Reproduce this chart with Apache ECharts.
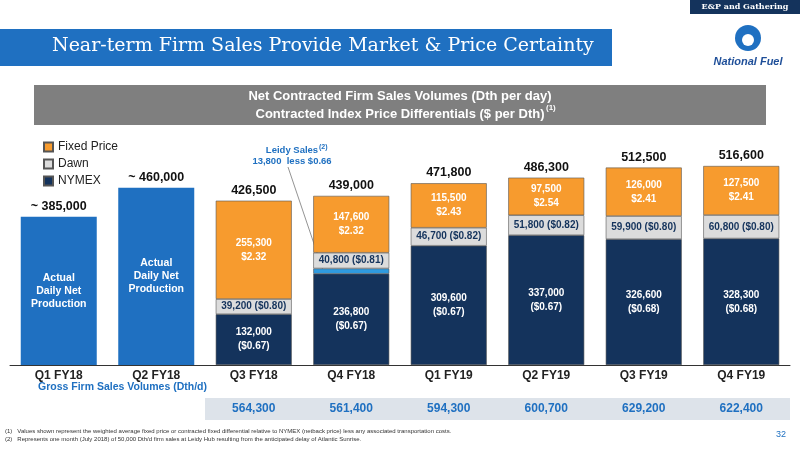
<!DOCTYPE html>
<html>
<head>
<meta charset="utf-8">
<script src="https://cdn.jsdelivr.net/npm/echarts@6/dist/echarts.min.js"></script>
<style>html,body{margin:0;padding:0;background:#fff}#main{width:800px;height:450px}</style>
</head>
<body>
<div id="main"></div>
<script>
var quarters = ['Q1 FY18', 'Q2 FY18', 'Q3 FY18', 'Q4 FY18', 'Q1 FY19', 'Q2 FY19', 'Q3 FY19', 'Q4 FY19'];
var actual = [385000, 460000, '-', '-', '-', '-', '-', '-'];
var nymex = ['-', '-', 132000, 236800, 309600, 337000, 326600, 328300];
var leidy = ['-', '-', '-', 13800, '-', '-', '-', '-'];
var dawn = ['-', '-', 39200, 40800, 46700, 51800, 59900, 60800];
var fixed = ['-', '-', 255300, 147600, 115500, 97500, 126000, 127500];
var totals = ['~ 385,000', '~ 460,000', '426,500', '439,000', '471,800', '486,300', '512,500', '516,600'];
var nymexPrice = ['', '', '($0.67)', '($0.67)', '($0.67)', '($0.67)', '($0.68)', '($0.68)'];
var dawnPrice = ['', '', '($0.80)', '($0.81)', '($0.82)', '($0.82)', '($0.80)', '($0.80)'];
var fixedPrice = ['', '', '$2.32', '$2.32', '$2.43', '$2.54', '$2.41', '$2.41'];
var gross = ['', '', '564,300', '561,400', '594,300', '600,700', '629,200', '622,400'];

function fmt(v) { return v.toLocaleString('en-US'); }

var chart = echarts.init(document.getElementById('main'));
var lab = { fontFamily: 'Liberation Sans', fontWeight: 'bold', fontSize: 10 };
var bw = 76;
var edge = { borderColor: '#555', borderWidth: 0.6 };

var graphics = [
    { type: 'rect', shape: { x: 0, y: 29, width: 612, height: 37 }, style: { fill: '#1f70c1' } },
    { type: 'text', left: 52, top: 37, style: { text: 'Near-term Firm Sales Provide Market & Price Certainty', fill: '#fff', font: '19px "DejaVu Serif"' } },
    { type: 'rect', shape: { x: 690, y: 0, width: 110, height: 14 }, style: { fill: '#14335c' } },
    { type: 'text', x: 745, y: 7, style: { text: 'E&P and Gathering', fill: '#fff', font: 'bold 8px "DejaVu Serif"', align: 'center', verticalAlign: 'middle' } },
    { type: 'circle', shape: { cx: 748, cy: 38, r: 13 }, style: { fill: '#1f70c1' } },
    { type: 'circle', shape: { cx: 748, cy: 40, r: 6 }, style: { fill: '#fff' } },
    { type: 'text', x: 748, y: 62, style: { text: 'National Fuel', fill: '#1f4f99', font: 'italic bold 11px "Liberation Sans"', align: 'center', verticalAlign: 'middle' } },
    { type: 'rect', shape: { x: 34, y: 85, width: 732, height: 40 }, style: { fill: '#7f7f7f' } },
    { type: 'text', x: 400, y: 96, style: { text: 'Net Contracted Firm Sales Volumes (Dth per day)', fill: '#fff', font: 'bold 13px "Liberation Sans"', align: 'center', verticalAlign: 'middle' } },
    { type: 'text', x: 400, y: 114, style: { text: 'Contracted Index Price Differentials ($ per Dth)', fill: '#fff', font: 'bold 13px "Liberation Sans"', align: 'center', verticalAlign: 'middle' } },
    { type: 'text', x: 546, y: 104, style: { text: '(1)', fill: '#fff', font: 'bold 8px "Liberation Sans"' } },
    { type: 'text', x: 292, y: 150, style: { text: 'Leidy Sales', fill: '#1f70c1', font: 'bold 9.5px "Liberation Sans"', align: 'center', verticalAlign: 'middle' } },
    { type: 'text', x: 319, y: 144, style: { text: '(2)', fill: '#1f70c1', font: 'bold 7px "Liberation Sans"' } },
    { type: 'text', x: 292, y: 161, style: { text: '13,800  less $0.66', fill: '#1f70c1', font: 'bold 9.5px "Liberation Sans"', align: 'center', verticalAlign: 'middle' } },
    { type: 'text', left: 38, top: 382, style: { text: 'Gross Firm Sales Volumes (Dth/d)', fill: '#1f70c1', font: 'bold 10.5px "Liberation Sans"' } },
    { type: 'rect', shape: { x: 205, y: 398, width: 585, height: 22 }, style: { fill: '#dde3ea' } },
    { type: 'text', left: 5, top: 427, style: { text: '(1)   Values shown represent the weighted average fixed price or contracted fixed differential relative to NYMEX (netback price) less any associated transportation costs.\n(2)   Represents one month (July 2018) of 50,000 Dth/d firm sales at Leidy Hub resulting from the anticipated delay of Atlantic Sunrise.', fill: '#333', font: '6px "Liberation Sans"', lineHeight: 8 } },
    { type: 'text', right: 14, top: 430, style: { text: '32', fill: '#1f70c1', font: '9px "Liberation Sans"' } }
].concat(gross.map(function (g, i) {
    return { type: 'text', x: 10 + 97.5 * i + 48.75, y: 409,
        style: { text: g, fill: '#1f70c1', font: 'bold 12px "Liberation Sans"', align: 'center', verticalAlign: 'middle' } };
}));

chart.setOption({
    animation: false,
    textStyle: { fontFamily: 'Liberation Sans' },
    grid: { left: 10, right: 10, top: 130, bottom: 85 },
    legend: {
        orient: 'vertical', left: 38, top: 136, itemGap: 5, itemWidth: 9, itemHeight: 9,
        icon: 'rect', data: ['Fixed Price', 'Dawn', 'NYMEX'],
        textStyle: { fontSize: 12, color: '#222' }
    },
    xAxis: {
        type: 'category', data: quarters,
        axisLine: { lineStyle: { color: '#333' } }, axisTick: { show: false },
        axisLabel: { fontWeight: 'bold', fontSize: 12, color: '#222', margin: 5 }
    },
    yAxis: { type: 'value', min: 0, max: 610000, show: false },
    series: [
        {
            name: 'Actual', type: 'bar', stack: 's', barWidth: bw, data: actual,
            itemStyle: { color: '#1f70c1' },
            label: { show: true, position: 'inside', color: '#fff', fontWeight: 'bold', fontSize: 10.5, lineHeight: 13,
                formatter: 'Actual\nDaily Net\nProduction' }
        },
        {
            name: 'NYMEX', type: 'bar', stack: 's', barWidth: bw, data: nymex,
            itemStyle: Object.assign({ color: '#14335c' }, edge),
            label: Object.assign({ show: true, position: 'inside', color: '#fff', lineHeight: 14,
                formatter: function (p) { return fmt(p.value) + '\n' + nymexPrice[p.dataIndex]; } }, lab)
        },
        {
            name: 'Leidy', type: 'bar', stack: 's', barWidth: bw, data: leidy,
            itemStyle: Object.assign({ color: '#2f9be0' }, edge)
        },
        {
            name: 'Dawn', type: 'bar', stack: 's', barWidth: bw, data: dawn,
            itemStyle: Object.assign({ color: '#dcdcdc' }, edge),
            label: Object.assign({ show: true, position: 'inside', color: '#14335c',
                formatter: function (p) { return fmt(p.value) + ' ' + dawnPrice[p.dataIndex]; } }, lab)
        },
        {
            name: 'Fixed Price', type: 'bar', stack: 's', barWidth: bw, data: fixed,
            itemStyle: Object.assign({ color: '#f79b2e' }, edge),
            label: Object.assign({ show: true, position: 'inside', color: '#fff', lineHeight: 14,
                formatter: function (p) { return fmt(p.value) + '\n' + fixedPrice[p.dataIndex]; } }, lab)
        },
        {
            name: 'Total', type: 'bar', stack: 's', barWidth: bw, data: [0, 0, 0, 0, 0, 0, 0, 0],
            itemStyle: { color: 'transparent' },
            label: { show: true, position: 'top', distance: 4, color: '#111', fontWeight: 'bold', fontSize: 12.5,
                formatter: function (p) { return totals[p.dataIndex]; } }
        }
    ],
    graphic: graphics
});

// leader line from the Leidy note to its segment
var tip = chart.convertToPixel({ xAxisIndex: 0, yAxisIndex: 0 }, [3, nymex[3] + leidy[3] / 2]);
graphics.push({ type: 'line', shape: { x1: 288, y1: 167, x2: tip[0] - 28, y2: tip[1] }, style: { stroke: '#777', lineWidth: 0.8 } });
chart.setOption({ graphic: graphics });
</script>
</body>
</html>
